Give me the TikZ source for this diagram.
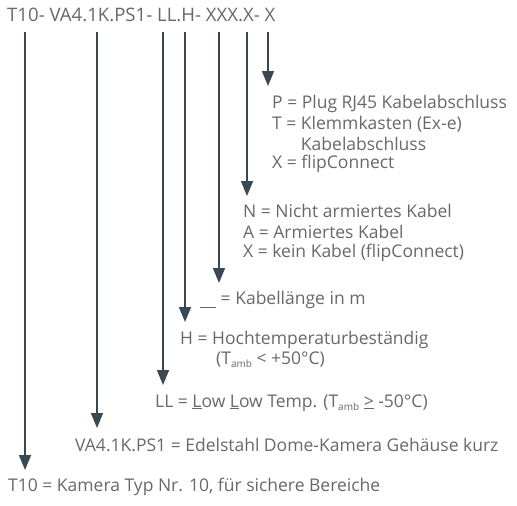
\documentclass[tikz,border=0pt]{standalone}
\usepackage{fontspec}
\setmainfont{Open Sans}
\usetikzlibrary{arrows.meta}
\definecolor{txt}{HTML}{686868}
\definecolor{arr}{HTML}{3A4853}
\tikzset{
  lbl/.style={anchor=west,inner sep=0pt,text=txt,font=\fontsize{17.5}{20}\selectfont},
  pointer/.style={draw=arr,line width=1.6pt,-{Triangle[length=15pt,width=12pt]}}
}
\newcommand{\amb}{\raisebox{-3pt}{\fontsize{10}{10}\selectfont amb}}
\begin{document}
\begin{tikzpicture}[x=1pt,y=-1pt]
\useasboundingbox (0,0) rectangle (517,506);
\node[lbl,font=\fontsize{18.6}{20}\selectfont] (head) at (7,15) {T10- VA4.1K.PS1- LL.H- XXX.X- X};
% arrow tops and tips
\coordinate (s1) at (25,32);  \coordinate (e1) at (25,470);
\coordinate (s2) at (97,32);  \coordinate (e2) at (97,428);
\coordinate (s3) at (163,32); \coordinate (e3) at (163,385);
\coordinate (s4) at (185,32); \coordinate (e4) at (185,322);
\coordinate (s5) at (219,32); \coordinate (e5) at (219,283);
\coordinate (s6) at (247,32); \coordinate (e6) at (247,196);
\coordinate (s7) at (268,32); \coordinate (e7) at (268,86);
\foreach \i in {1,...,7} { \draw[pointer] (s\i) -- (e\i); }
% P block
\node[lbl] (p1) at (272,104) {P = Plug RJ45 Kabelabschluss};
\node[lbl] (p2) at (272,124) {T = Klemmkasten (Ex-e)};
\node[lbl] (p3) at (272,144) {\phantom{T = }Kabelabschluss};
\node[lbl] (p4) at (272,164) {X = flipConnect};
% N block
\node[lbl] (n1) at (243,211) {N = Nicht armiertes Kabel};
\node[lbl] (n2) at (243,232) {A = Armiertes Kabel};
\node[lbl] (n3) at (243,253) {X = kein Kabel (flipConnect)};
% length
\node[lbl] (k1) at (200,300) {\rule[-3pt]{16pt}{0.7pt} = Kabellänge in m};
% H
\node[lbl] (h1) at (180,340) {H = Hochtemperaturbeständig};
\node[lbl] (h2) at (216,360) {(T\amb{} < +50°C)};
% LL
\node[lbl] (l1) at (155,403) {LL = \underline{L}ow \underline{L}ow Temp. (T\amb{} \underline{>} -50°C)};
% VA
\node[lbl] (v1) at (75,445) {VA4.1K.PS1 = Edelstahl Dome-Kamera Gehäuse kurz};
% T10
\node[lbl] (t1) at (8,487) {T10 = Kamera Typ Nr. 10, für sichere Bereiche};
\end{tikzpicture}
\end{document}
